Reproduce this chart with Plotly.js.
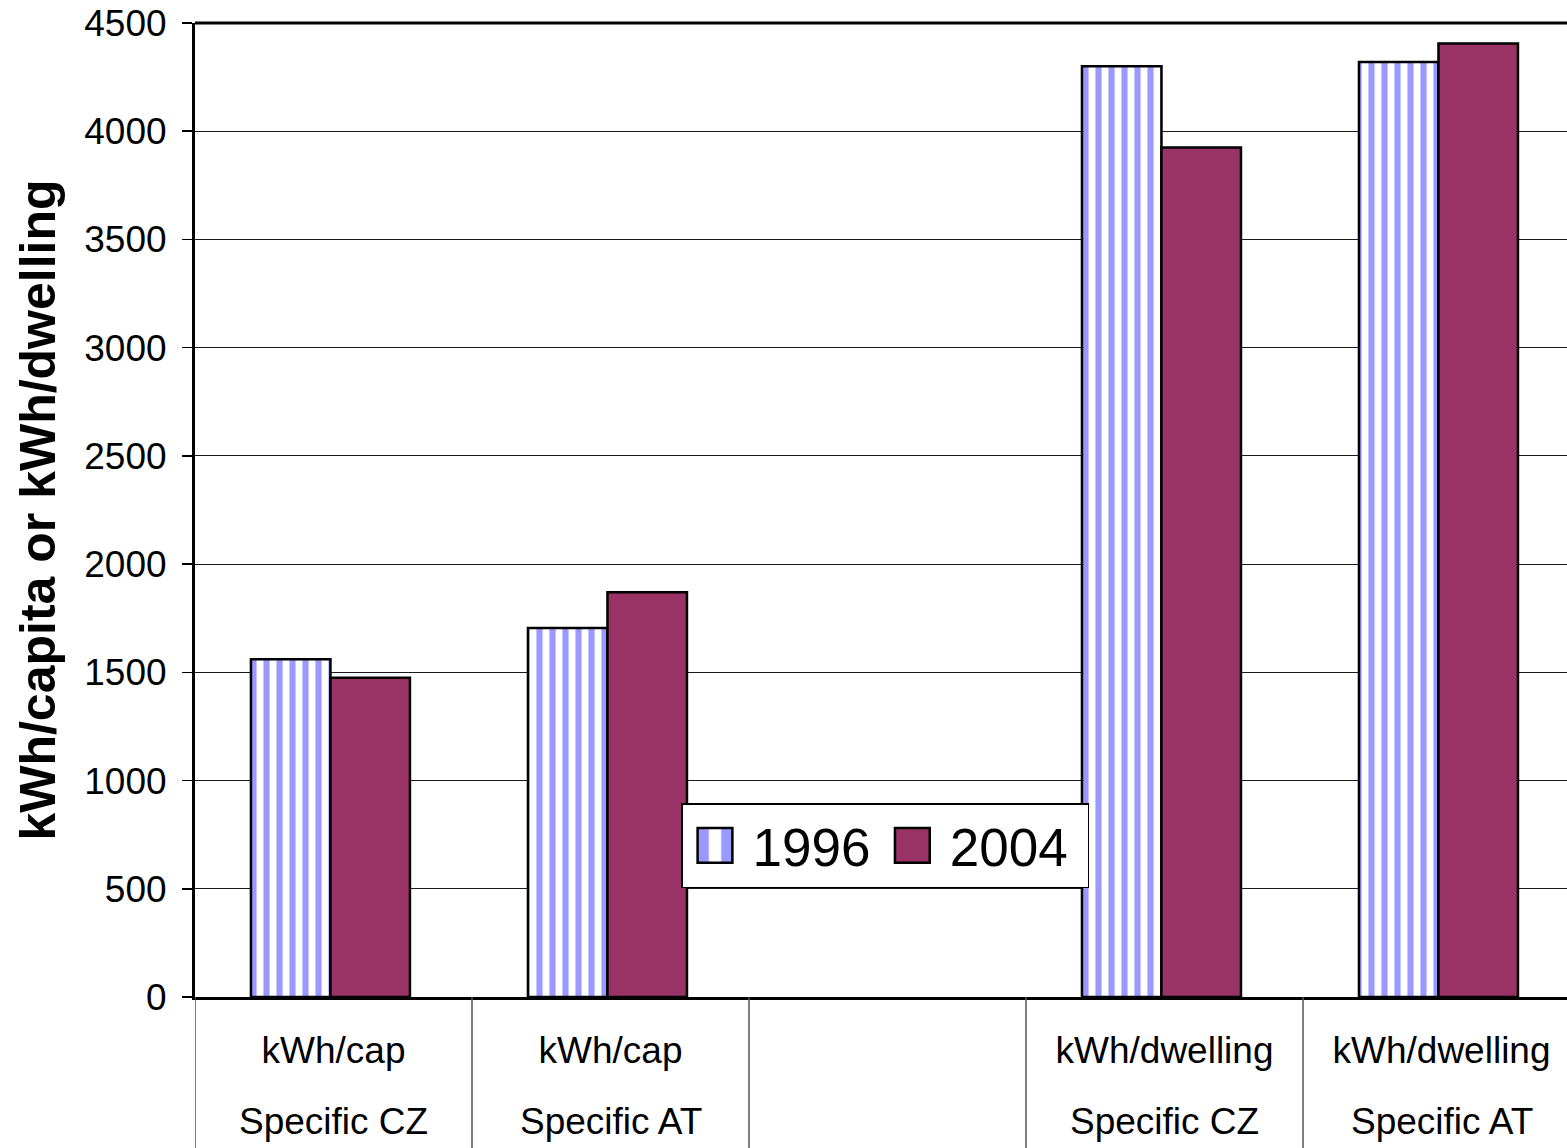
<!DOCTYPE html>
<html>
<head>
<meta charset="utf-8">
<script src="https://cdn.plot.ly/plotly-3.0.1.min.js"></script>
<style>
  html, body { margin: 0; padding: 0; background: #fff; }
  #chart { width: 1567px; height: 1148px; }
</style>
</head>
<body>
<div id="chart"></div>
<script>
// ---- data ----
const categoryIndex = [0, 1, 2, 3, 4];
const unitLabels   = ["kWh/cap", "kWh/cap", "", "kWh/dwelling", "kWh/dwelling"];
const regionLabels = ["Specific CZ", "Specific AT", "", "Specific CZ", "Specific AT"];
const values1996 = [1560, 1705, null, 4300, 4320];
const values2004 = [1475, 1870, null, 3925, 4405];
const seriesNames = ["1996", "2004"];
const yTickValues = [0, 500, 1000, 1500, 2000, 2500, 3000, 3500, 4000, 4500];

const FONT = "Liberation Sans, Arial, sans-serif";
const BAR_W = 0.287;
const SHIFT = -0.011;

const traces = [
  {
    type: "bar",
    name: seriesNames[0] + "\u200a",
    x: categoryIndex,
    y: values1996,
    width: BAR_W,
    offset: -BAR_W + SHIFT,
    marker: {
      color: "#9999FF",
      line: { color: "#000", width: 2.5 },
      pattern: { shape: "|", fgcolor: "#9999FF", bgcolor: "#FFFFFF", size: 13, solidity: 0.47, fillmode: "replace" }
    },
    hoverinfo: "y"
  },
  {
    type: "bar",
    name: seriesNames[1] + "\u00a0",
    x: categoryIndex,
    y: values2004,
    width: BAR_W,
    offset: SHIFT,
    marker: { color: "#993366", line: { color: "#000", width: 2.5 } },
    hoverinfo: "y"
  }
];

const plotBottomPx = 151, plotHeightPx = 974;
const shapes = [];
// top border of plot area
shapes.push({ type: "line", xref: "paper", yref: "paper", x0: 0, x1: 1, y0: 1, y1: 1,
  line: { color: "#000", width: 3 } });
// category dividers below axis
[-0.5, 0.5, 1.5, 2.5, 3.5].forEach(b => {
  shapes.push({ type: "line", xref: "x", yref: "paper", x0: b, x1: b, y0: 0, y1: -plotBottomPx / plotHeightPx,
    line: { color: "#555", width: 1.5 } });
});

const annotations = regionLabels.map((t, i) => ({
  x: categoryIndex[i], xref: "x", y: -(1121 - 997) / plotHeightPx, yref: "paper",
  text: t, showarrow: false, xanchor: "center", yanchor: "middle",
  font: { family: FONT, size: 37, color: "#000" }
}));

const layout = {
  width: 1567, height: 1148,
  margin: { l: 195, r: 0, t: 23, b: 151, pad: 0 },
  paper_bgcolor: "#fff", plot_bgcolor: "#fff",
  font: { family: FONT, color: "#000" },
  barmode: "group",
  bargap: 0.426,
  bargroupgap: 0,
  showlegend: true,
  legend: {
    orientation: "h",
    x: (681 - 195) / 1372, xanchor: "left",
    y: (997 - 803) / 974, yanchor: "top",
    bgcolor: "#fff", bordercolor: "#000", borderwidth: 1.5,
    font: { family: FONT, size: 53, color: "#000" },
    itemwidth: 60,
    traceorder: "normal"
  },
  xaxis: {
    type: "linear",
    range: [-0.5, 4.453],
    tickvals: categoryIndex,
    ticktext: unitLabels,
    ticks: "",
    ticklabelstandoff: 19,
    tickfont: { family: FONT, size: 37, color: "#000" },
    showgrid: false, zeroline: false,
    showline: true, linecolor: "#000", linewidth: 3,
    fixedrange: true
  },
  yaxis: {
    range: [0, 4500],
    tickvals: yTickValues,
    ticks: "outside", ticklen: 10, tickwidth: 1.5, tickcolor: "#000",
    ticklabelstandoff: 8,
    tickfont: { family: FONT, size: 37, color: "#000" },
    showgrid: true, gridcolor: "#1a1a1a", gridwidth: 1,
    zeroline: false,
    showline: true, linecolor: "#000", linewidth: 3,
    title: { text: "<b>kWh/capita or kWh/dwelling</b>", font: { family: FONT, size: 50, color: "#000" }, standoff: 13 },
    fixedrange: true
  },
  shapes: shapes,
  annotations: annotations
};

Plotly.newPlot("chart", traces, layout, { displayModeBar: false, staticPlot: true }).then(gd => {
  // enlarge legend swatches to match the reference
  document.querySelectorAll(".legend .traces").forEach(item => {
    const txt = item.querySelector("text.legendtext");
    const tx = txt ? txt.getBBox().x : 70;
    item.querySelectorAll(".legendpoints path").forEach(p => {
      p.setAttribute("transform", "translate(" + (tx - 37.5) + ",0) scale(2.9)");
      p.setAttribute("vector-effect", "non-scaling-stroke");
    });
  });
});
</script>
</body>
</html>
